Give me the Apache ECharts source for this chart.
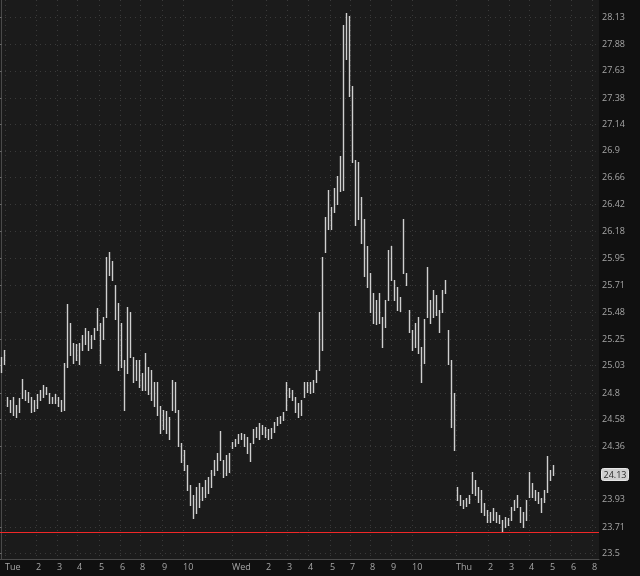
<!DOCTYPE html>
<html>
<head>
<meta charset="utf-8">
<script src="https://cdn.jsdelivr.net/npm/echarts@6/dist/echarts.min.js"></script>
<style>html,body{margin:0;padding:0;background:#101010;}#c{width:640px;height:576px;}</style>
</head>
<body>
<div id="c"></div>
<script>
// ---- data ----
const barHigh = [25.10,25.16,24.77,24.74,24.77,24.70,24.76,24.92,24.83,24.81,
24.77,24.74,24.79,24.83,24.87,24.85,24.80,24.77,24.79,24.77,
24.74,25.05,25.55,25.39,25.22,25.21,25.22,25.29,25.35,25.32,
25.29,25.35,25.52,25.39,25.44,25.96,26.00,25.92,25.72,25.56,
25.39,25.08,25.53,25.48,25.10,25.08,25.08,24.97,25.14,25.02,
24.99,24.89,24.89,24.69,24.66,24.65,24.60,24.91,24.89,24.66,
24.39,24.33,24.21,24.05,23.97,24.03,24.06,24.03,24.09,24.11,
24.17,24.25,24.31,24.49,24.25,24.29,24.31,24.40,24.42,24.46,
24.47,24.46,24.44,24.39,24.50,24.52,24.55,24.54,24.52,24.50,
24.51,24.56,24.60,24.61,24.64,24.89,24.84,24.83,24.77,24.72,
24.74,24.89,24.89,24.89,24.91,24.99,25.48,25.96,26.31,26.55,
26.40,26.57,26.67,26.85,28.06,28.17,28.14,27.49,26.82,26.80,
26.49,26.29,26.05,25.82,25.65,25.59,25.65,25.44,25.59,26.02,
26.05,25.76,25.70,25.61,26.29,25.82,25.50,25.33,25.39,25.44,
25.19,25.42,25.87,25.59,25.67,25.63,25.50,25.67,25.76,25.33,
25.08,24.80,24.03,23.97,23.93,23.94,23.97,24.15,24.09,24.03,
24.01,23.90,23.85,23.83,23.86,23.83,23.81,23.77,23.79,23.78,
23.87,23.93,23.97,23.87,23.83,23.93,24.15,24.06,24.01,23.99,
23.94,24.01,24.28,24.17,24.21];
const barLow = [24.98,25.04,24.69,24.64,24.62,24.60,24.64,24.76,24.74,24.73,
24.64,24.65,24.68,24.74,24.77,24.79,24.72,24.72,24.72,24.69,
24.65,24.66,25.02,25.12,25.05,25.08,25.04,25.16,25.21,25.16,
25.18,25.25,25.33,25.05,25.25,25.44,25.80,25.76,25.42,24.99,
25.02,24.66,24.97,25.10,24.89,24.91,24.85,24.83,24.83,24.79,
24.74,24.69,24.62,24.47,24.50,24.47,24.42,24.66,24.64,24.36,
24.23,24.17,24.01,23.89,23.78,23.82,23.87,23.93,23.95,23.98,
24.03,24.13,24.17,24.25,24.11,24.13,24.15,24.35,24.36,24.39,
24.42,24.36,24.31,24.24,24.39,24.44,24.42,24.46,24.44,24.42,
24.43,24.48,24.54,24.55,24.58,24.66,24.77,24.74,24.64,24.60,
24.62,24.77,24.81,24.80,24.81,24.89,24.99,25.16,26.00,26.20,
26.20,26.35,26.42,26.54,26.55,27.74,27.40,26.80,26.24,26.29,
26.08,25.79,25.70,25.48,25.39,25.38,25.39,25.19,25.36,25.59,
25.76,25.59,25.50,25.49,25.82,25.72,25.31,25.16,25.19,25.14,
24.89,25.05,25.44,25.39,25.44,25.46,25.31,25.48,25.65,25.04,
24.52,24.33,23.93,23.89,23.86,23.88,23.90,23.98,23.97,23.91,
23.83,23.81,23.75,23.75,23.77,23.75,23.74,23.67,23.71,23.73,
23.77,23.85,23.87,23.75,23.71,23.77,23.95,23.95,23.93,23.90,
23.83,23.91,23.99,24.09,24.13];
const lastPrice = 24.13;
const supportLevel = 23.67;
const yTickLabels = ['23.5','23.71','23.93','24.14','24.36','24.58','24.8','25.03','25.25','25.48',
'25.71','25.95','26.18','26.42','26.66','26.9','27.14','27.38','27.63','27.88','28.13'];
const yRange = [23.458, 28.295];
const xTickPos = [1.17,11.5,18.5,25.17,32.5,39.5,46.17,53.5,60.5,76.83,88.17,95.17,102.17,109.5,116.17,122.83,129.83,136.83,151.5,162.17,169.17,175.83,182.83,189.83,196.83];
const xTickLabels = ['Tue','2','3','4','5','6','8','9','10','Wed','2','3','4','5','7','8','9','10','Thu','2','3','4','5','6','8'];
const xRange = [-0.5, 199.1667];

// ---- chart ----
const L = Math.log;
const yTickVals = yTickLabels.map(s => L(parseFloat(s)));
const seriesData = barHigh.map((h, i) => [i, L(h), L(barLow[i])]);
const txtColor = '#a6a6a6';
const font = 'Open Sans';

const chart = echarts.init(document.getElementById('c'), null, {renderer: 'canvas'});
chart.setOption({
  animation: false,
  backgroundColor: '#101010',
  grid: {left: 0, top: 0, right: 41, bottom: 17, show: true, backgroundColor: '#1b1b1b', borderWidth: 0},
  xAxis: {
    type: 'value', min: xRange[0], max: xRange[1],
    axisLine: {show: true, lineStyle: {color: '#4a4a4a'}},
    axisTick: {show: false, customValues: xTickPos},
    axisLabel: {
      customValues: xTickPos, align: 'left', margin: 4,
      color: txtColor, fontSize: 9, fontFamily: font,
      formatter: v => { const k = xTickPos.findIndex(p => Math.abs(p - v) < 1e-3); return k >= 0 ? xTickLabels[k] : ''; }
    },
    splitLine: {show: true, lineStyle: {color: '#3a3a3a', type: [1, 4]}}
  },
  yAxis: {
    type: 'value', position: 'right', min: L(yRange[0]), max: L(yRange[1]),
    axisLine: {show: true, lineStyle: {color: '#4a4a4a'}},
    axisTick: {show: true, inside: true, length: 3, customValues: yTickVals, lineStyle: {color: '#6a6a6a'}},
    axisLabel: {
      customValues: yTickVals, margin: 3,
      color: txtColor, fontSize: 9, fontFamily: font,
      formatter: v => { const k = yTickVals.findIndex(p => Math.abs(p - v) < 1e-6); return k >= 0 ? yTickLabels[k] : ''; }
    },
    splitLine: {show: true, lineStyle: {color: '#3a3a3a', type: [1, 4]}}
  },
  series: [{
    type: 'custom',
    clip: false,
    data: seriesData,
    encode: {x: 0, y: [1, 2]},
    renderItem: function (params, api) {
      const i = api.value(0);
      const top = api.coord([i, api.value(1)]);
      const bot = api.coord([i, api.value(2)]);
      const x = Math.floor(top[0]) + 0.5;
      const bar = {type: 'line', shape: {x1: x, y1: Math.round(top[1]), x2: x, y2: Math.round(bot[1]) + 1},
        style: {stroke: '#cfcfcf', lineWidth: 1.4}};
      if (params.dataIndex !== barHigh.length - 1) return bar;
      const cs = params.coordSys;
      const cy = api.coord([i, L(lastPrice)])[1];
      const bx = cs.x + cs.width + 2;
      return {type: 'group', children: [
        bar,
        {type: 'rect', shape: {x: bx + 0.5, y: Math.round(cy) - 6.5, width: 27, height: 12, r: 2},
          style: {fill: '#cfcfcf', stroke: '#e6e6e6', lineWidth: 1}},
        {type: 'text', style: {x: bx + 14, y: Math.round(cy), text: String(lastPrice), fill: '#2a2a2a',
          fontSize: 9, fontFamily: font, align: 'center', verticalAlign: 'middle'}}
      ]};
    },
    markLine: {
      silent: true, symbol: ['none', 'none'], label: {show: false}, precision: 10,
      lineStyle: {color: '#f02828', width: 1, type: 'solid'},
      data: [{yAxis: L(supportLevel)}]
    }
  }]
});
</script>
</body>
</html>
